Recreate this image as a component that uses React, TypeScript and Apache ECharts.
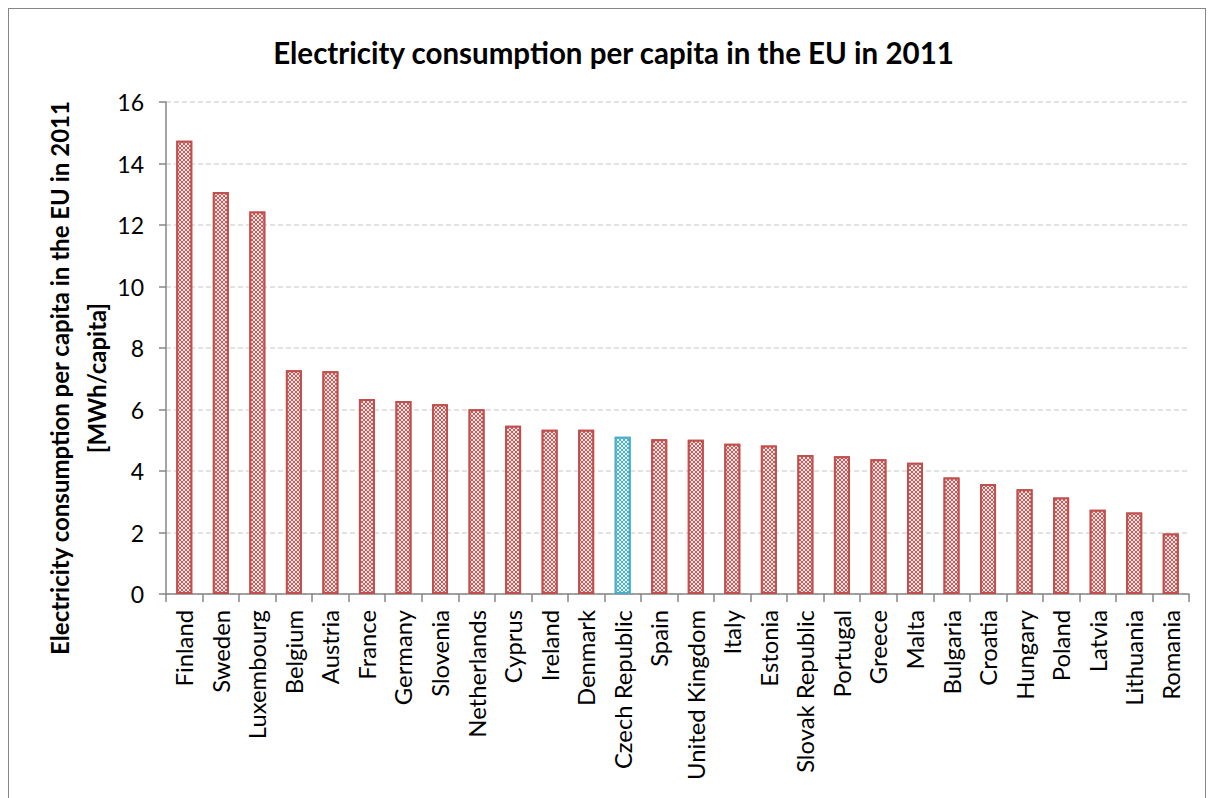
import React, { useEffect, useRef } from "react";
import * as echarts from "echarts";

const categories = [
  "Finland", "Sweden", "Luxembourg", "Belgium", "Austria", "France", "Germany",
  "Slovenia", "Netherlands", "Cyprus", "Ireland", "Denmark", "Czech Republic",
  "Spain", "United Kingdom", "Italy", "Estonia", "Slovak Republic", "Portugal",
  "Greece", "Malta", "Bulgaria", "Croatia", "Hungary", "Poland", "Latvia",
  "Lithuania", "Romania",
];
const values = [
  14.74, 13.07, 12.44, 7.28, 7.24, 6.34, 6.28, 6.17, 6.01, 5.47, 5.34, 5.34,
  5.11, 5.03, 5.02, 4.89, 4.83, 4.52, 4.48, 4.38, 4.27, 3.79, 3.58, 3.41, 3.14,
  2.74, 2.65, 1.97,
];
const highlightCategory = "Czech Republic";
const yMin = 0;
const yMax = 16;
const yInterval = 2;
const chartTitle = "Electricity consumption per capita in the EU in 2011";
const yTitleLines = [
  "Electricity consumption per capita in the EU in 2011",
  "[MWh/capita]",
];

const FONT = "Lato, Calibri, 'Noto Sans', sans-serif";

export default function App() {
  const ref = useRef<HTMLDivElement>(null);

  useEffect(() => {
    if (!ref.current) return;
    const chart = echarts.init(ref.current, null, { renderer: "svg" });

    const checker = (color: string) => ({
      symbol: "rect",
      symbolSize: 1,
      color,
      dashArrayX: [
        [2, 2],
        [0, 2, 2, 0],
      ],
      dashArrayY: [2, 0],
      rotation: 0,
    });

    const seriesData = values.map((v, i) => {
      const hl = categories[i] === highlightCategory;
      return {
        value: v,
        itemStyle: hl
          ? {
              color: "#4fb0ca",
              borderColor: "#4bacc6",
              borderWidth: 2,
              decal: checker("#e4f3f8"),
            }
          : {
              color: "#cb5c59",
              borderColor: "#c0504d",
              borderWidth: 2,
              decal: checker("#f9e6e6"),
            },
      };
    });

    chart.setOption({
      animation: false,
      grid: { left: 157, top: 93, width: 1023, height: 492 },
      xAxis: {
        type: "category",
        data: categories,
        axisLine: { lineStyle: { color: "#868686", width: 1.5 } },
        axisTick: {
          show: true,
          length: 8,
          alignWithLabel: false,
          lineStyle: { color: "#868686", width: 1.5 },
        },
        axisLabel: {
          rotate: 90,
          interval: 0,
          margin: 16,
          fontFamily: FONT,
          fontSize: 23.8,
          color: "#000",
        },
      },
      yAxis: {
        type: "value",
        min: yMin,
        max: yMax,
        interval: yInterval,
        axisLine: { show: true, lineStyle: { color: "#868686", width: 1.5 } },
        axisTick: {
          show: true,
          length: 7,
          lineStyle: { color: "#868686", width: 1.5 },
        },
        axisLabel: {
          margin: 22,
          fontFamily: FONT,
          fontSize: 23,
          color: "#000",
        },
        splitLine: {
          show: true,
          lineStyle: { color: "#d9d9d9", type: [5, 3], width: 1.5 },
        },
      },
      series: [
        {
          type: "bar",
          barWidth: 16,
          data: seriesData,
        },
      ],
      graphic: [
        {
          type: "text",
          x: 604.5,
          y: 43,
          style: {
            text: chartTitle,
            fontFamily: FONT,
            fontWeight: "bold",
            fontSize: 29.5,
            fill: "#000",
            textAlign: "center",
            textVerticalAlign: "middle",
          },
        },
        {
          type: "text",
          x: 69,
          y: 369,
          rotation: Math.PI / 2,
          style: {
            text: yTitleLines.join("\n"),
            fontFamily: FONT,
            fontWeight: "bold",
            fontSize: 24,
            lineHeight: 37,
            fill: "#000",
            textAlign: "center",
            textVerticalAlign: "middle",
          },
        },
      ],
    });

    return () => chart.dispose();
  }, []);

  return (
    <div
      style={{
        position: "fixed",
        left: 8,
        top: 8,
        width: 1198,
        height: 810,
        border: "1px solid #868686",
        boxSizing: "border-box",
        background: "#fff",
      }}
    >
      <div
        ref={ref}
        style={{ position: "absolute", left: 0, top: 0, width: 1196, height: 800 }}
      />
    </div>
  );
}
